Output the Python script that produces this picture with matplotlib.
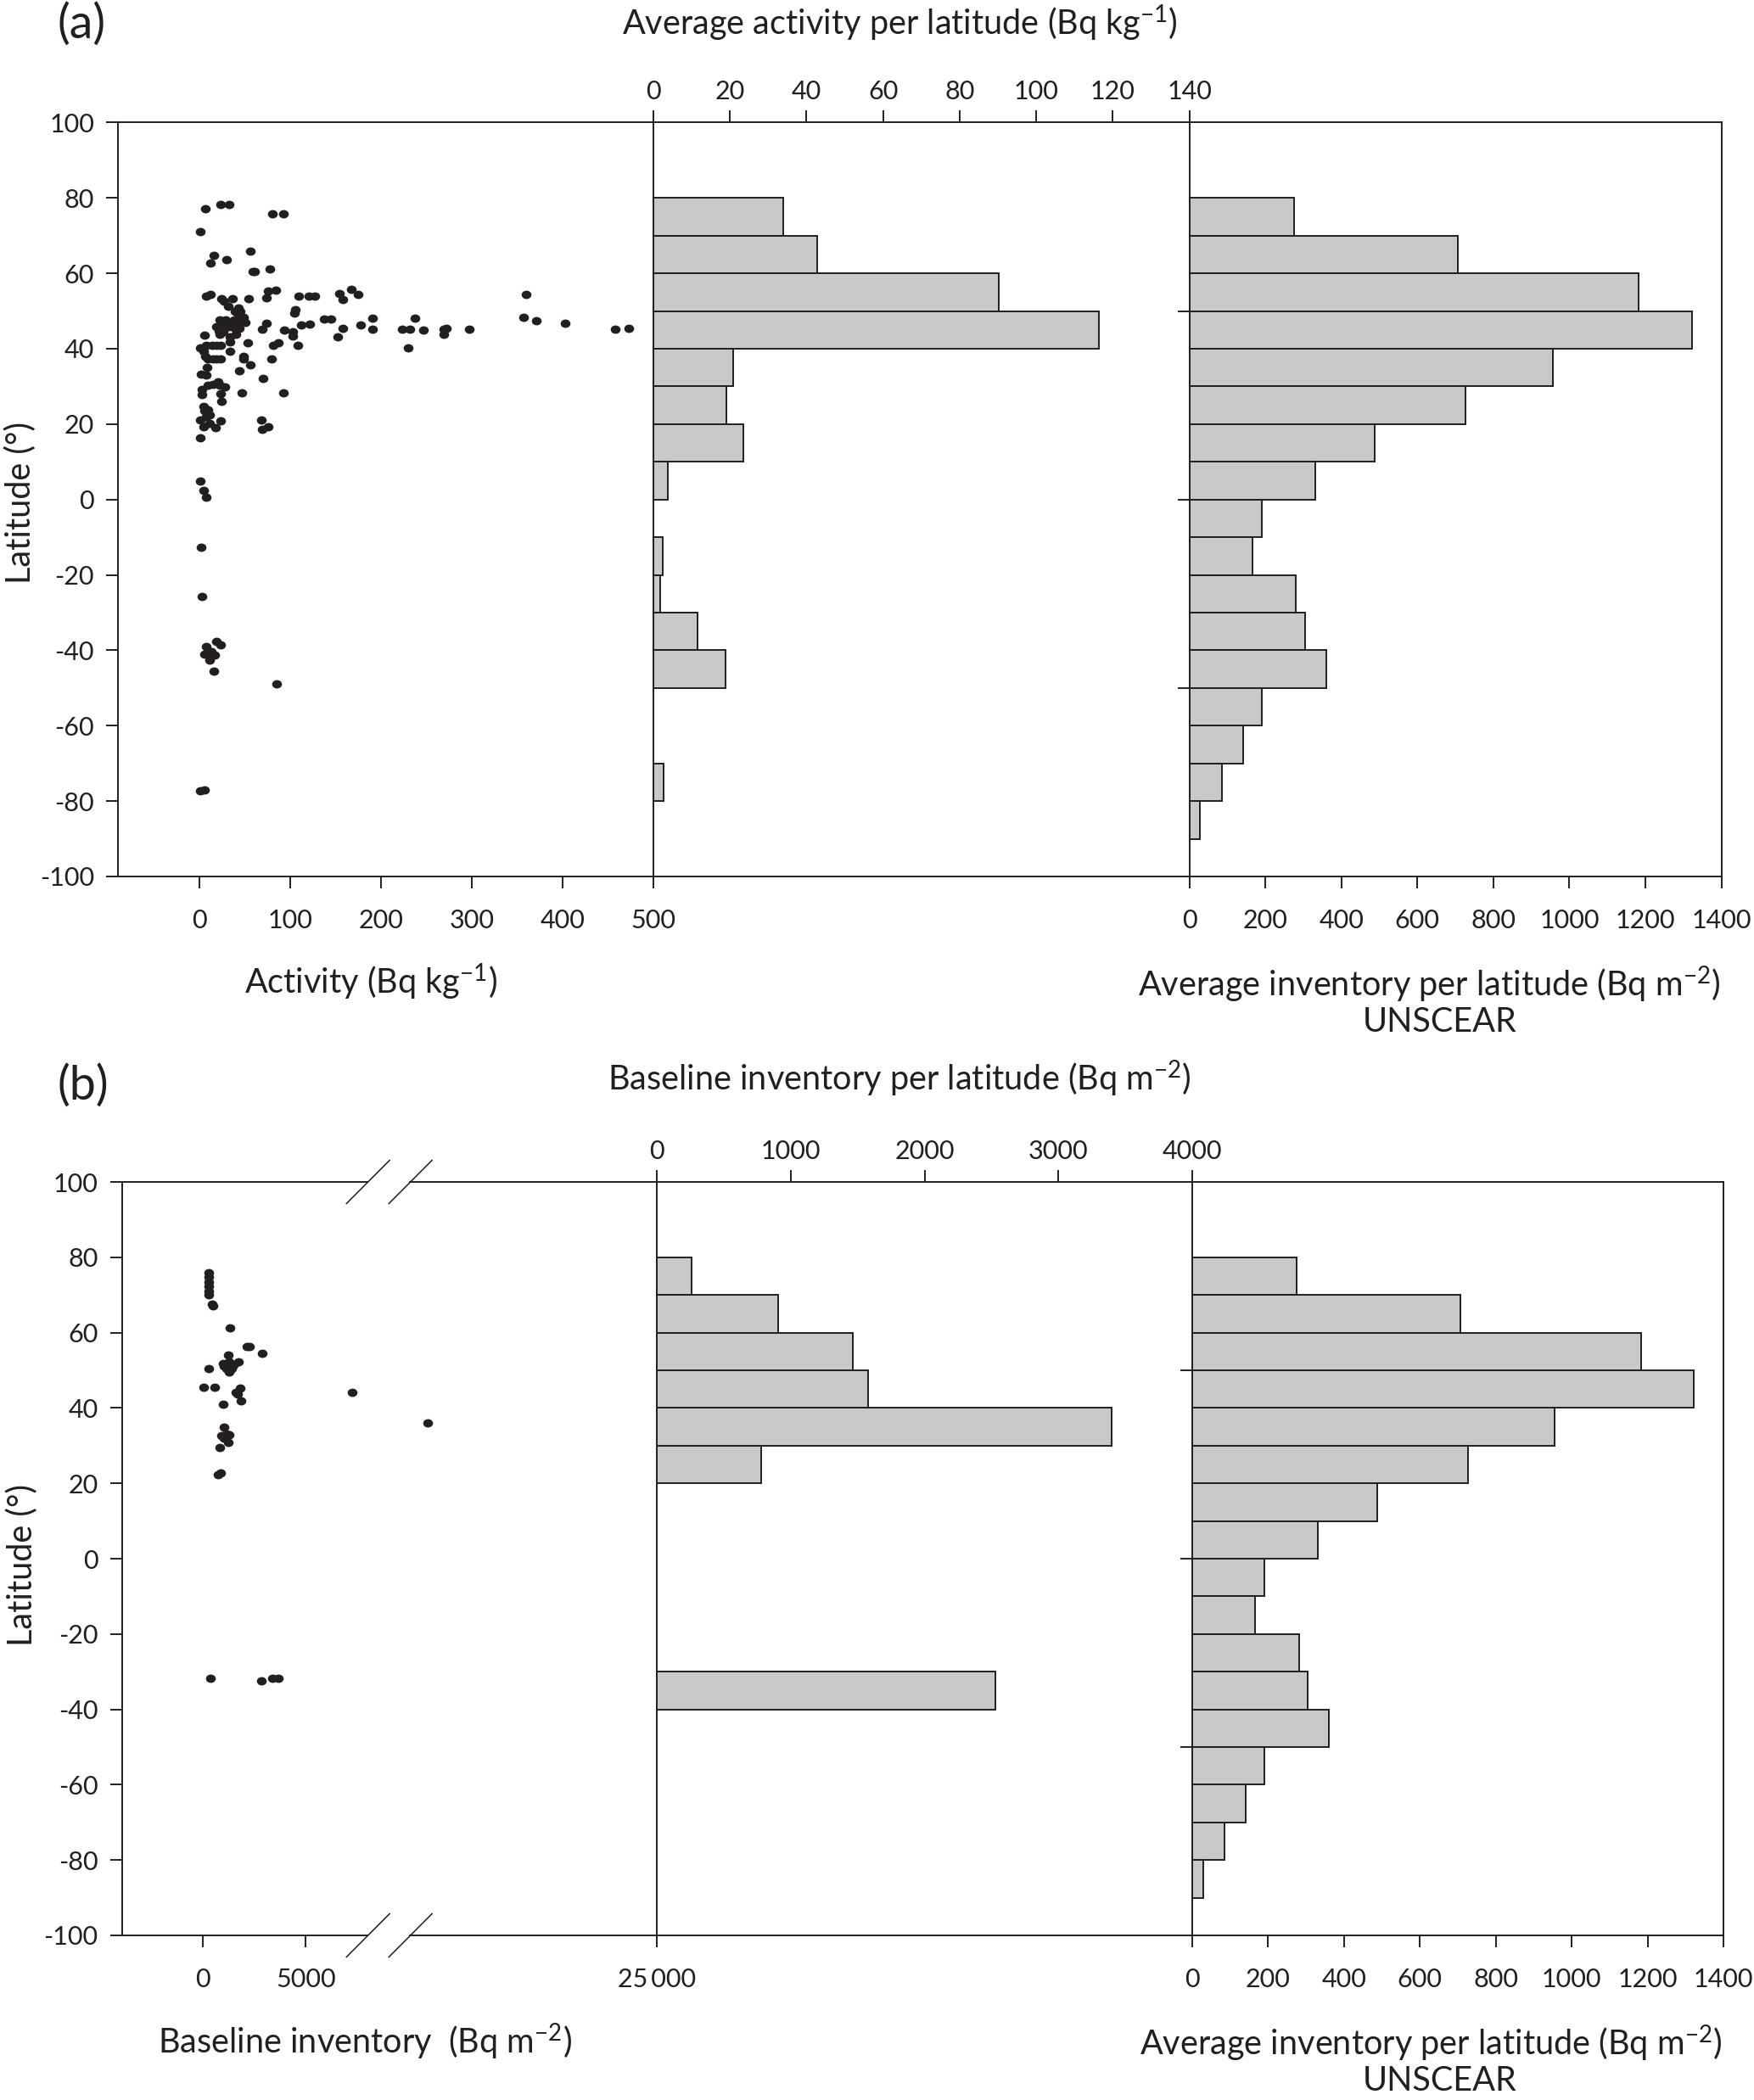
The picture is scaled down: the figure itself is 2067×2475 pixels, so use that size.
import numpy as np
import matplotlib
matplotlib.use('Agg')
import matplotlib.pyplot as plt
from matplotlib.path import Path
from matplotlib.transforms import Affine2D

# ---- data ----
# (a) activity per site (Bq/kg) vs latitude
act_x = [6.2, 22.9, 32, 80, 92.7, 1, 55.4, 15.3, 11.5, 30, 58.3, 60.6, 77.4, 11.5, 7.2,
         54, 75, 83.6, 74, 109, 120, 127, 154, 158, 167, 175, 360, 357, 371, 403, 458,
         473, 297, 269, 269, 272, 247, 237, 232, 223, 230, 190, 190, 177, 158, 152, 145,
         137, 121, 112, 108, 105, 104, 103, 103, 93, 87, 81, 79, 92, 74, 69, 70, 68, 69,
         75, 53, 56, 48, 48, 43.5, 46, 33, 23.4, 18.6, 14.3, 9, 4.3, 1, 5.3, 7.2, 14,
         18.6, 23.4, 6.2, 8.1, 7.2, 1.9, 2.4, 2.4, 9, 14.8, 20, 22.4, 27.7, 23.4, 23.9,
         4.3, 5.3, 8.6, 11, 7.2, 1, 4.3, 11, 17.2, 23.4, 1,
         23.9, 26.7, 36.3, 31.5, 42.5, 39.2, 44.9, 48.2, 50.6, 22.4, 24.4, 28.2, 31.5,
         35.3, 40.1, 43.9, 18.6, 21, 25.8, 33, 22, 33.4, 40.1, 34.4, 41.6, 37.7, 29.1, 42.5,
         1, 4.8, 7.2, 1.9, 2.4, 7.6, 18.6, 22.9, 5.7, 9, 12.4, 16.2, 10.5, 15.8, 85, 1, 5.7]
act_lat = [77.2, 78.3, 78.3, 75.7, 75.7, 71.1, 65.8, 64.8, 62.8, 63.7, 60.5, 60.5, 61.1, 54.5, 53.9,
           53.2, 55.4, 55.6, 53.4, 54, 54, 54, 54.7, 53, 55.7, 54.5, 54.5, 48.3, 47.4, 46.8, 45.2,
           45.4, 45.2, 45.2, 43.8, 45.4, 44.9, 48, 45.2, 45.2, 40.3, 48, 45.2, 46.3, 45.5, 43.2, 47.8,
           47.8, 46.5, 46.3, 40.8, 50.4, 49.4, 44.5, 43.4, 45, 41.5, 41, 37.4, 28.2, 46.8, 45.2, 32.2, 21.2, 18.7,
           19.3, 41.5, 35.8, 38, 37.4, 34.1, 28.2, 39.3, 37.4, 37.4, 37.4, 37.4, 39.3, 40.2, 43.6, 41, 41,
           41, 40.8, 38, 35.1, 33.1, 33.2, 29.3, 27.9, 30.3, 30.5, 31.3, 30.3, 29.9, 28.1, 26,
           24.7, 23.5, 23.7, 22.5, 22.1, 21.1, 19.3, 20.3, 19.1, 20.9, 16.3,
           53.2, 52.7, 53.2, 51.2, 50.9, 49.9, 49.9, 48.3, 47, 47.7, 47, 46.4, 45.8,
           45.8, 45.1, 45.5, 45.8, 44.7, 44.5, 43.2, 43.8, 41.9, 43.8, 46.4, 47, 47.7, 47.7, 48.3,
           4.9, 2.5, 0.5, -12.7, -25.7, -38.9, -37.6, -38.5, -41, -41.1, -40.4, -41.2, -42.5, -45.5, -49, -77.3, -77.1]

# 10 degree latitude bins (centres)
act_bin_lat = [75, 65, 55, 45, 35, 25, 15, 5, -15, -25, -35, -45, -75]
act_mean = [33.9, 42.8, 90.3, 116.5, 20.8, 19.0, 23.4, 3.8, 2.5, 1.8, 11.6, 18.9, 2.7]

unscear_lat = [75, 65, 55, 45, 35, 25, 15, 5, -5, -15, -25, -35, -45, -55, -65, -75, -85]
unscear_inv = [275, 707, 1183, 1322, 956, 727, 488, 331, 191, 166, 281, 305, 361, 190, 141, 85, 29]

# (b) baseline inventory per site (Bq/m2) vs latitude
base_x = [307, 307, 307, 307, 307, 307, 472, 519, 1320, 2146, 2264, 2877, 1226, 307, 1038, 1273,
          1745, 1155, 1391, 1273, 1509, 991, 47, 590, 1603, 1839, 1698, 1863, 1014, 1038, 920,
          1155, 1273, 1038, 1226, 849, 873, 755, 7263, 11500, 377, 2853, 3372, 3655]
base_lat = [75.9, 74.7, 73.4, 72.2, 71, 70.1, 67.6, 67.1, 61.3, 56.2, 56.2, 54.6, 54.1, 50.4, 51.1, 52.2,
            52.2, 50.4, 50.4, 49.5, 51.3, 51.8, 45.6, 45.6, 44.2, 45.3, 43.7, 42, 40.9, 34.9, 32.6,
            33.2, 32.8, 31.9, 30.9, 29.6, 22.8, 22.4, 44.2, 36, -31.8, -32.5, -31.8, -31.8]

base_bin_lat = [75, 65, 55, 45, 35, 25, -35]
base_mean = [263, 905, 1462, 1576, 3395, 778, 2532]

# ---- layout helpers ----
W, H = 2067, 2475
plt.rcParams['font.family'] = ['Lato', 'DejaVu Sans']
plt.rcParams['mathtext.default'] = 'regular'
plt.rcParams['axes.unicode_minus'] = False
ink = '#231f20'
grey = '#c8c9cb'
LW = 1.4
FS = 22
LFS = 28.5


def box(x0, x1, y0, y1):
    return [x0 / W, 1 - y1 / H, (x1 - x0) / W, (y1 - y0) / H]


def style(ax):
    for s in ax.spines.values():
        s.set_linewidth(LW)
        s.set_color(ink)
    ax.tick_params(direction='out', length=10, width=LW, colors=ink, labelsize=FS, pad=10)
    ax.tick_params(axis='x', which='both', bottom=True, pad=17)
    ax.tick_params(axis='x', top=False)
    ax.set_ylim(-100, 100)


def top_ticks(ax):
    ax.xaxis.tick_top()
    ax.tick_params(axis='x', pad=6)


def put(x, y, s, **kw):
    fig.text(x / W, 1 - y / H, s, ha='center', va='center', color=ink, **kw)


ell = Path.unit_circle().transformed(Affine2D().scale(1, 0.85))

fig = plt.figure(figsize=(W / 100, H / 100), dpi=100)

# ================= (a) =================
ya0, ya1 = 144.4, 1033
ax1 = fig.add_axes(box(138.8, 770, ya0, ya1))
style(ax1)
ax1.scatter(act_x, act_lat, marker=ell, s=70, color=ink, linewidths=0)
ax1.set_xlim(-90.3, 500)
ax1.set_xticks(range(0, 501, 100))
ax1.set_yticks(range(-100, 101, 20))
ax1.spines['right'].set_visible(False)

ax2 = fig.add_axes(box(770, 1401.5, ya0, ya1))
style(ax2)
ax2.barh(act_bin_lat, act_mean, height=10, color=grey, edgecolor=ink, linewidth=LW)
ax2.set_xlim(0, 140)
top_ticks(ax2)
ax2.set_xticks(range(0, 141, 20))
ax2.set_yticks([])
ax2.spines['right'].set_visible(False)

ax3 = fig.add_axes(box(1401.5, 2028.6, ya0, ya1))
style(ax3)
ax3.barh(unscear_lat, unscear_inv, height=10, color=grey, edgecolor=ink, linewidth=LW)
ax3.set_xlim(0, 1400)
ax3.set_xticks(range(0, 1401, 200))
ax3.set_yticks([-50, 0, 50])
ax3.set_yticklabels([])

put(96, 29, '(a)', fontsize=40)
put(1060, 27, 'Average activity per latitude (Bq kg$^{-1}$)', fontsize=LFS)
put(437, 1157, 'Activity (Bq kg$^{-1}$)', fontsize=LFS)
put(1684, 1160, 'Average inventory per latitude (Bq m$^{-2}$)', fontsize=LFS)
put(1697, 1205, 'UNSCEAR', fontsize=LFS)
put(24, 592, 'Latitude (°)', fontsize=LFS, rotation=90)

# ================= (b) =================
yb0, yb1 = 1393, 2281
K = 14000 / 17000.0


def fwd(v):
    v = np.asarray(v, float)
    return np.where(v <= 8000, v, 8000 + (v - 8000) * K)


def inv(u):
    u = np.asarray(u, float)
    return np.where(u <= 8000, u, 8000 + (u - 8000) / K)


ax4 = fig.add_axes(box(143.5, 774, yb0, yb1))
style(ax4)
ax4.set_xscale('function', functions=(fwd, inv))
ax4.scatter(base_x, base_lat, marker=ell, s=70, color=ink, linewidths=0)
ax4.set_xlim(-3915, 25000)
ax4.set_xticks([0, 5000, 25000])
ax4.set_xticklabels(['0', '5000', '25\u2009000'])
ax4.set_yticks(range(-100, 101, 20))
for s in ['right', 'top', 'bottom']:
    ax4.spines[s].set_visible(False)
# broken top / bottom spines with slash marks
g0, g1 = 0.459, 0.5385
for yy in (0, 1):
    ax4.plot([0, g0], [yy, yy], transform=ax4.transAxes, color=ink, lw=LW, clip_on=False)
    ax4.plot([g1, 1], [yy, yy], transform=ax4.transAxes, color=ink, lw=LW, clip_on=False)
    for sx in (0.42, 0.4993):
        ax4.plot([sx, sx + 0.0805], [yy - 0.0287, yy + 0.0287], transform=ax4.transAxes,
                 color=ink, lw=1.1, clip_on=False)

ax5 = fig.add_axes(box(774, 1405, yb0, yb1))
style(ax5)
ax5.barh(base_bin_lat, base_mean, height=10, color=grey, edgecolor=ink, linewidth=LW)
ax5.set_xlim(0, 4000)
top_ticks(ax5)
ax5.set_xticks(range(0, 4001, 1000))
ax5.set_yticks([])
ax5.spines['right'].set_visible(False)

ax6 = fig.add_axes(box(1405, 2031, yb0, yb1))
style(ax6)
ax6.barh(unscear_lat, unscear_inv, height=10, color=grey, edgecolor=ink, linewidth=LW)
ax6.set_xlim(0, 1400)
ax6.set_xticks(range(0, 1401, 200))
ax6.set_yticks([-50, 0, 50])
ax6.set_yticklabels([])

put(98, 1280, '(b)', fontsize=40)
put(1060, 1271, 'Baseline inventory per latitude (Bq m$^{-2}$)', fontsize=LFS)
put(430, 2406, 'Baseline inventory  (Bq m$^{-2}$)', fontsize=LFS)
put(1686, 2408, 'Average inventory per latitude (Bq m$^{-2}$)', fontsize=LFS)
put(1697, 2452, 'UNSCEAR', fontsize=LFS)
put(26, 1844, 'Latitude (°)', fontsize=LFS, rotation=90)

fig.savefig('out.png', dpi=100)
